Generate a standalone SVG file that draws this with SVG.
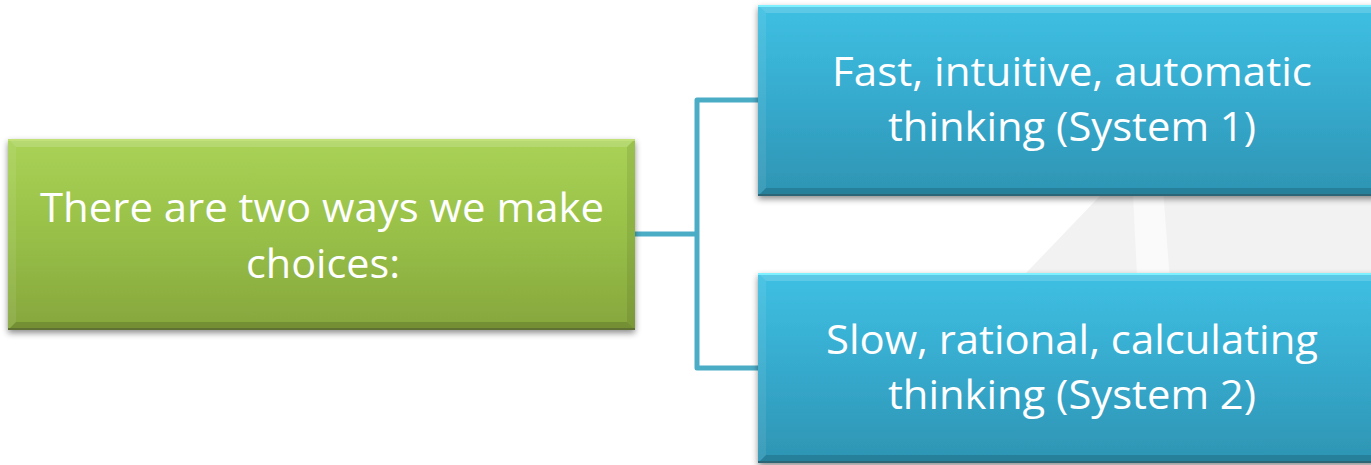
<svg xmlns="http://www.w3.org/2000/svg" width="1371" height="465" viewBox="0 0 1371 465">
  <defs>
    <linearGradient id="gGreen" x1="0" y1="0" x2="0" y2="1">
      <stop offset="0" stop-color="#a9d256"/>
      <stop offset="0.5" stop-color="#98c048"/>
      <stop offset="1" stop-color="#86a63d"/>
    </linearGradient>
    <linearGradient id="gBlue" x1="0" y1="0" x2="0" y2="1">
      <stop offset="0" stop-color="#3ec0e3"/>
      <stop offset="0.5" stop-color="#36aacd"/>
      <stop offset="1" stop-color="#2e94b3"/>
    </linearGradient>
    <filter id="shadow" x="-5%" y="-10%" width="110%" height="125%">
      <feDropShadow dx="0" dy="3" stdDeviation="3" flood-color="#000" flood-opacity="0.45"/>
    </filter>
    <style>
      .label { font-family: "Open Sans", "Liberation Sans", sans-serif; font-size: 40px; fill: #ffffff; text-anchor: middle; }
      .conn { fill: none; stroke: #4bacc6; stroke-width: 5; stroke-linejoin: round; }
      .bvTop { fill: #ffffff; fill-opacity: 0.16; }
      .bvLeft { fill: #ffffff; fill-opacity: 0.08; }
      .bvRight { fill: #000000; fill-opacity: 0.08; }
      .bvBottom { fill: #000000; fill-opacity: 0.14; }
    </style>
  </defs>

  <!-- page background with a large soft disc on the right -->
  <rect x="0" y="0" width="1371" height="465" fill="#ffffff"/>
  <polygon points="1120,175 1005,295 1400,295 1400,175" fill="#f2f2f2"/>
  <polygon points="1132,175 1162,175 1171,295 1138,295" fill="#fafafa"/>

  <!-- connectors -->
  <g id="connectors">
    <path class="conn" d="M635,234 H697"/>
    <path class="conn" d="M758,100 H697 V368 H758"/>
  </g>

  <!-- root node -->
  <g id="node-root">
    <rect x="8" y="139" width="627" height="191" fill="url(#gGreen)" filter="url(#shadow)"/>
    <polygon class="bvTop" points="8,139 635,139 627,147 16,147"/>
    <polygon class="bvLeft" points="8,139 16,147 16,322 8,330"/>
    <polygon class="bvRight" points="635,139 635,330 627,322 627,147"/>
    <polygon class="bvBottom" points="8,330 16,322 627,322 635,330"/>
    <rect x="8" y="139" width="627" height="2" fill="#c6e27a" fill-opacity="0.8"/>
    <rect x="8" y="328" width="627" height="2" fill="#5f7234"/>
    <text class="label" x="322" y="222" textLength="564" lengthAdjust="spacingAndGlyphs">There are two ways we make</text>
    <text class="label" x="323" y="278" textLength="154" lengthAdjust="spacingAndGlyphs">choices:</text>
  </g>

  <!-- system 1 node -->
  <g id="node-system1">
    <rect x="758" y="5" width="628" height="191" fill="url(#gBlue)" filter="url(#shadow)"/>
    <polygon class="bvTop" points="758,5 1386,5 1378,13 766,13"/>
    <polygon class="bvLeft" points="758,5 766,13 766,188 758,196"/>
    <polygon class="bvBottom" points="758,196 766,188 1378,188 1386,196"/>
    <rect x="758" y="5" width="628" height="2" fill="#7ff0ff"/>
    <rect x="758" y="194" width="628" height="2" fill="#2b6576"/>
    <text class="label" x="1072" y="86" textLength="480" lengthAdjust="spacingAndGlyphs">Fast, intuitive, automatic</text>
    <text class="label" x="1072" y="141" textLength="368" lengthAdjust="spacingAndGlyphs">thinking (System 1)</text>
  </g>

  <!-- system 2 node -->
  <g id="node-system2">
    <rect x="758" y="273" width="628" height="190" fill="url(#gBlue)" filter="url(#shadow)"/>
    <polygon class="bvTop" points="758,273 1386,273 1378,281 766,281"/>
    <polygon class="bvLeft" points="758,273 766,281 766,455 758,463"/>
    <polygon class="bvBottom" points="758,463 766,455 1378,455 1386,463"/>
    <rect x="758" y="273" width="628" height="2" fill="#7ff0ff"/>
    <rect x="758" y="461" width="628" height="2" fill="#2b6576"/>
    <text class="label" x="1072" y="354" textLength="492" lengthAdjust="spacingAndGlyphs">Slow, rational, calculating</text>
    <text class="label" x="1072" y="409" textLength="368" lengthAdjust="spacingAndGlyphs">thinking (System 2)</text>
  </g>
</svg>
